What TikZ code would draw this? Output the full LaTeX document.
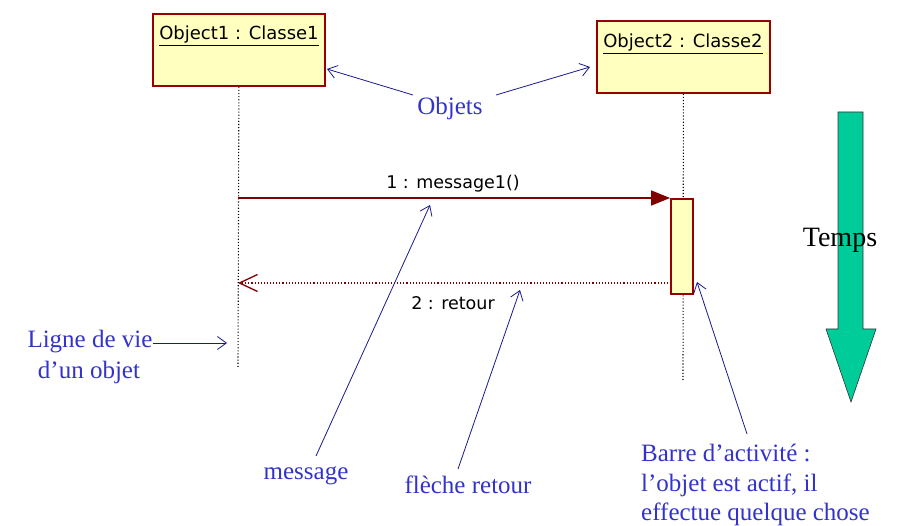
\documentclass[tikz,border=0pt]{standalone}
\usepackage{fontspec}
\setmainfont{Liberation Serif}
\newfontfamily\umlfont{DejaVu Sans}
\usetikzlibrary{arrows.meta}
\definecolor{objred}{RGB}{153,0,0}
\definecolor{msgred}{RGB}{128,0,0}
\definecolor{objfill}{RGB}{255,255,192}
\definecolor{noteblue}{RGB}{51,51,204}
\definecolor{annblue}{RGB}{25,25,140}
\definecolor{tempsgreen}{RGB}{0,204,153}
\newcommand{\objul}[1]{\underline{#1}}
\tikzset{
  objbox/.style={draw=objred, line width=1.8pt, fill=objfill, inner sep=0pt},
  objlabel/.style={font=\umlfont\fontsize{18}{21}\selectfont, inner sep=0pt, anchor=base},
  msglabel/.style={font=\umlfont\fontsize{17.5}{20}\selectfont, inner sep=0pt, anchor=base},
  lifeline/.style={draw=black, line width=1.1pt, dash pattern=on 1.1pt off 2pt},
  msgarrow/.style={draw=msgred, line width=1.5pt, -{Triangle[length=19pt,width=15pt]}},
  retarrow/.style={draw=msgred, line width=1.1pt, dash pattern=on 1.1pt off 2pt, -{Straight Barb[length=18pt,width=17pt,line width=1.3pt]}},
  note/.style={font=\fontsize{25}{29}\selectfont, text=noteblue, inner sep=0pt, anchor=base},
  ann/.style={draw=annblue, line width=0.8pt, -{Straight Barb[length=9pt,width=13pt,line width=0.8pt]}},
}
\begin{document}
\begin{tikzpicture}[x=1pt,y=-1pt]
\useasboundingbox (0,0) rectangle (899,526);
% objects
\node[objbox, minimum width=172pt, minimum height=72pt, anchor=north west] (o1) at (152,13) {};
\node[objlabel] (t1) at (239,40) {\objul{Object1 : Classe1}};
\node[objbox, minimum width=173pt, minimum height=72pt, anchor=north west] (o2) at (596,20) {};
\node[objlabel] (t2) at (683,48) {\objul{Object2 : Classe2}};
% lifelines
\coordinate (l1end) at (238,368);
\coordinate (l2end) at (683,382);
\draw[lifeline] (o1.south) -- (l1end);
\draw[lifeline] (o2.south) -- (l2end);
% activation bar
\node[objbox, minimum width=22pt, minimum height=95pt, anchor=north] (bar) at (682,198) {};
% message
\coordinate (ms) at (238,198);
\draw[msgarrow] (ms) -- (bar.north west);
\node[msglabel] (m1) at (453,189) {1 : message1()};
% return
\coordinate (rs) at (671,283);
\coordinate (re) at (238,283);
\draw[retarrow] (rs) -- (re);
\node[msglabel] (m2) at (453,310) {2 : retour};
% time arrow
\draw[fill=tempsgreen, draw=black!80, line width=0.6pt]
  (838,112) -- (863,112) -- (863,329) -- (876,329) -- (851,402) -- (826,329) -- (838,329) -- cycle;
\node[font=\fontsize{28}{32}\selectfont, inner sep=0pt, anchor=base] (temps) at (840,247) {Temps};
% notes
\node[note] (objets) at (450,115) {Objets};
\coordinate (ob1s) at (413,95);
\coordinate (ob1e) at (327,69);
\coordinate (ob2s) at (496,95);
\coordinate (ob2e) at (590,67);
\draw[ann] (ob1s) -- (ob1e);
\draw[ann] (ob2s) -- (ob2e);

\node[note] (lv1) at (90,348) {Ligne de vie};
\node[note] (lv2) at (89,378) {d’un objet};
\coordinate (lve) at (227,343);
\draw[ann] (lv1.east |- lve) -- (lve);

\node[note] (msgn) at (306,479) {message};
\coordinate (msgs) at (316,456);
\coordinate (msge) at (430,205);
\draw[ann] (msgs) -- (msge);

\node[note] (retn) at (468,493) {flèche retour};
\coordinate (rets) at (458,469);
\coordinate (rete) at (520,290);
\draw[ann] (rets) -- (rete);

\node[note, anchor=base west] (b1) at (641,461) {Barre d’activité :};
\node[note, anchor=base west] (b2) at (641,491) {l’objet est actif, il};
\node[note, anchor=base west] (b3) at (641,520) {effectue quelque chose};
\coordinate (bs) at (747,434);
\coordinate (be) at (697,282);
\draw[ann] (bs) -- (be);
\end{tikzpicture}
\end{document}
